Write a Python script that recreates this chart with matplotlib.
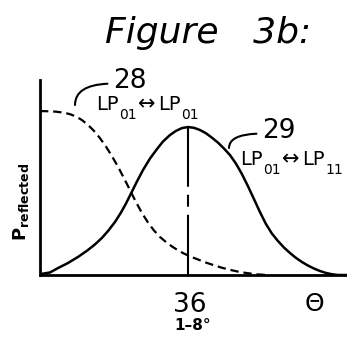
import matplotlib
matplotlib.use("Agg")
import matplotlib.pyplot as plt

plt.rcParams['lines.scale_dashes'] = False

# curve 29 (solid): LP01 <-> LP11
theta_29 = [0.24, 2.43, 4.38, 6.81, 9.24, 11.43, 13.38, 15.08, 16.54, 18.24, 19.70, 20.92,
            22.14, 23.59, 25.05, 26.76, 28.46, 29.92, 31.62, 33.08, 34.54, 36.00,
            37.46, 38.92, 40.38, 41.84, 43.30, 44.76, 46.22, 47.68, 49.14, 50.59,
            52.05, 53.51, 54.97, 56.43, 57.89, 59.35, 60.81, 62.27, 63.73, 65.19,
            66.65, 68.11, 69.57, 71.03, 72.49, 74.68]
p_29 = [0.007, 0.017, 0.047, 0.081, 0.122, 0.164, 0.207, 0.251, 0.297, 0.358, 0.422, 0.483,
        0.551, 0.632, 0.709, 0.787, 0.851, 0.902, 0.946, 0.974, 0.993, 1.000,
        0.995, 0.980, 0.958, 0.928, 0.895, 0.855, 0.811, 0.753, 0.682, 0.601,
        0.514, 0.426, 0.345, 0.280, 0.230, 0.186, 0.149, 0.116, 0.088, 0.064,
        0.044, 0.027, 0.014, 0.005, 0.0, 0.0]

# curve 28 (dashed): LP01 <-> LP01
theta_28 = [0.0, 1.70, 3.89, 5.84, 7.30, 8.76, 10.22, 11.68, 13.14, 14.59, 16.05, 17.51,
            18.97, 20.43, 21.89, 23.35, 24.81, 26.27, 27.73, 29.19, 30.65, 32.11,
            33.57, 35.03, 36.49, 38.43, 40.38, 42.32, 44.27, 46.22, 48.16, 50.11,
            52.54, 55.22]
p_28 = [1.108, 1.107, 1.104, 1.097, 1.087, 1.071, 1.047, 1.014, 0.974, 0.925, 0.868, 0.803,
        0.732, 0.655, 0.574, 0.493, 0.419, 0.355, 0.301, 0.257, 0.223, 0.193,
        0.167, 0.145, 0.126, 0.105, 0.084, 0.066, 0.049, 0.035, 0.023, 0.014,
        0.005, 0.0]

theta_mark = 36.0
mark_label = "36"
mark_sub = "1\u20138\u00b0"

W, H = 347, 338


def fp(x, y):
    # pixel position (from top left) -> figure fraction
    return x / W, 1 - y / H


fig = plt.figure(figsize=(W / 100, H / 100), dpi=100)
ax = fig.add_axes([40 / W, (H - 275) / H, 307 / W, 195 / H])

ax.plot(theta_29, p_29, color='black', lw=1.8, solid_joinstyle='round')
ax.plot(theta_28, p_28, color='black', lw=1.6, dashes=(6, 3.5))
peak = max(p_29)
ax.plot([theta_mark, theta_mark], [peak, 0], color='black', lw=1.5,
        dashes=(43, 5.8, 8.6, 5.8, 60, 1))

ax.set_xlim(0, 74.7)
ax.set_ylim(0, 1.318)
ax.set_xticks([])
ax.set_yticks([])
for s in ['top', 'right']:
    ax.spines[s].set_visible(False)
for s in ['left', 'bottom']:
    ax.spines[s].set_linewidth(2.0)

# title
fig.text(*fp(105, 43), "Figure   3b:", ha='left', va='baseline', fontsize=26,
         style='italic', fontweight='light')

# y label
fig.text(*fp(21, 202), r'$\mathbf{P}_{\mathbf{reflected}}$', rotation=90,
         ha='center', va='center', fontsize=13)

# x labels
fig.text(*fp(190, 312), mark_label, ha='center', va='baseline', fontsize=19)
fig.text(*fp(193, 330), mark_sub, ha='center', va='baseline', fontsize=11, fontweight='bold')
fig.text(*fp(314, 311), "\u0398", ha='center', va='baseline', fontsize=18)


def mode_pair(x0, y0, sub1, sub2):
    fig.text(*fp(x0, y0), "LP", ha='left', va='baseline', fontsize=14)
    fig.text(*fp(x0 + 23, y0 + 9), sub1, ha='left', va='baseline', fontsize=10)
    fig.text(*fp(x0 + 51, y0 - 6), "\u2194", ha='center', va='center', fontsize=15)
    fig.text(*fp(x0 + 62, y0), "LP", ha='left', va='baseline', fontsize=14)
    fig.text(*fp(x0 + 85, y0 + 9), sub2, ha='left', va='baseline', fontsize=10)


mode_pair(96, 110, "01", "01")
mode_pair(240, 165, "01", "11")

# reference numerals with leaders
for num, tx, ty, lx, ly in [("28", 113, 88, 75, 105), ("29", 262, 138, 229, 148)]:
    ax.annotate(num, xy=(lx, H - ly), xycoords='figure pixels',
                xytext=(tx, H - ty), textcoords='figure pixels',
                ha='left', va='baseline', fontsize=19,
                arrowprops=dict(arrowstyle='-', lw=1.5, color='black',
                                connectionstyle='angle3,angleA=0,angleB=90',
                                shrinkA=2, shrinkB=0,
                                relpos=(0, 0.4)))

fig.savefig("out.png", dpi=100)
